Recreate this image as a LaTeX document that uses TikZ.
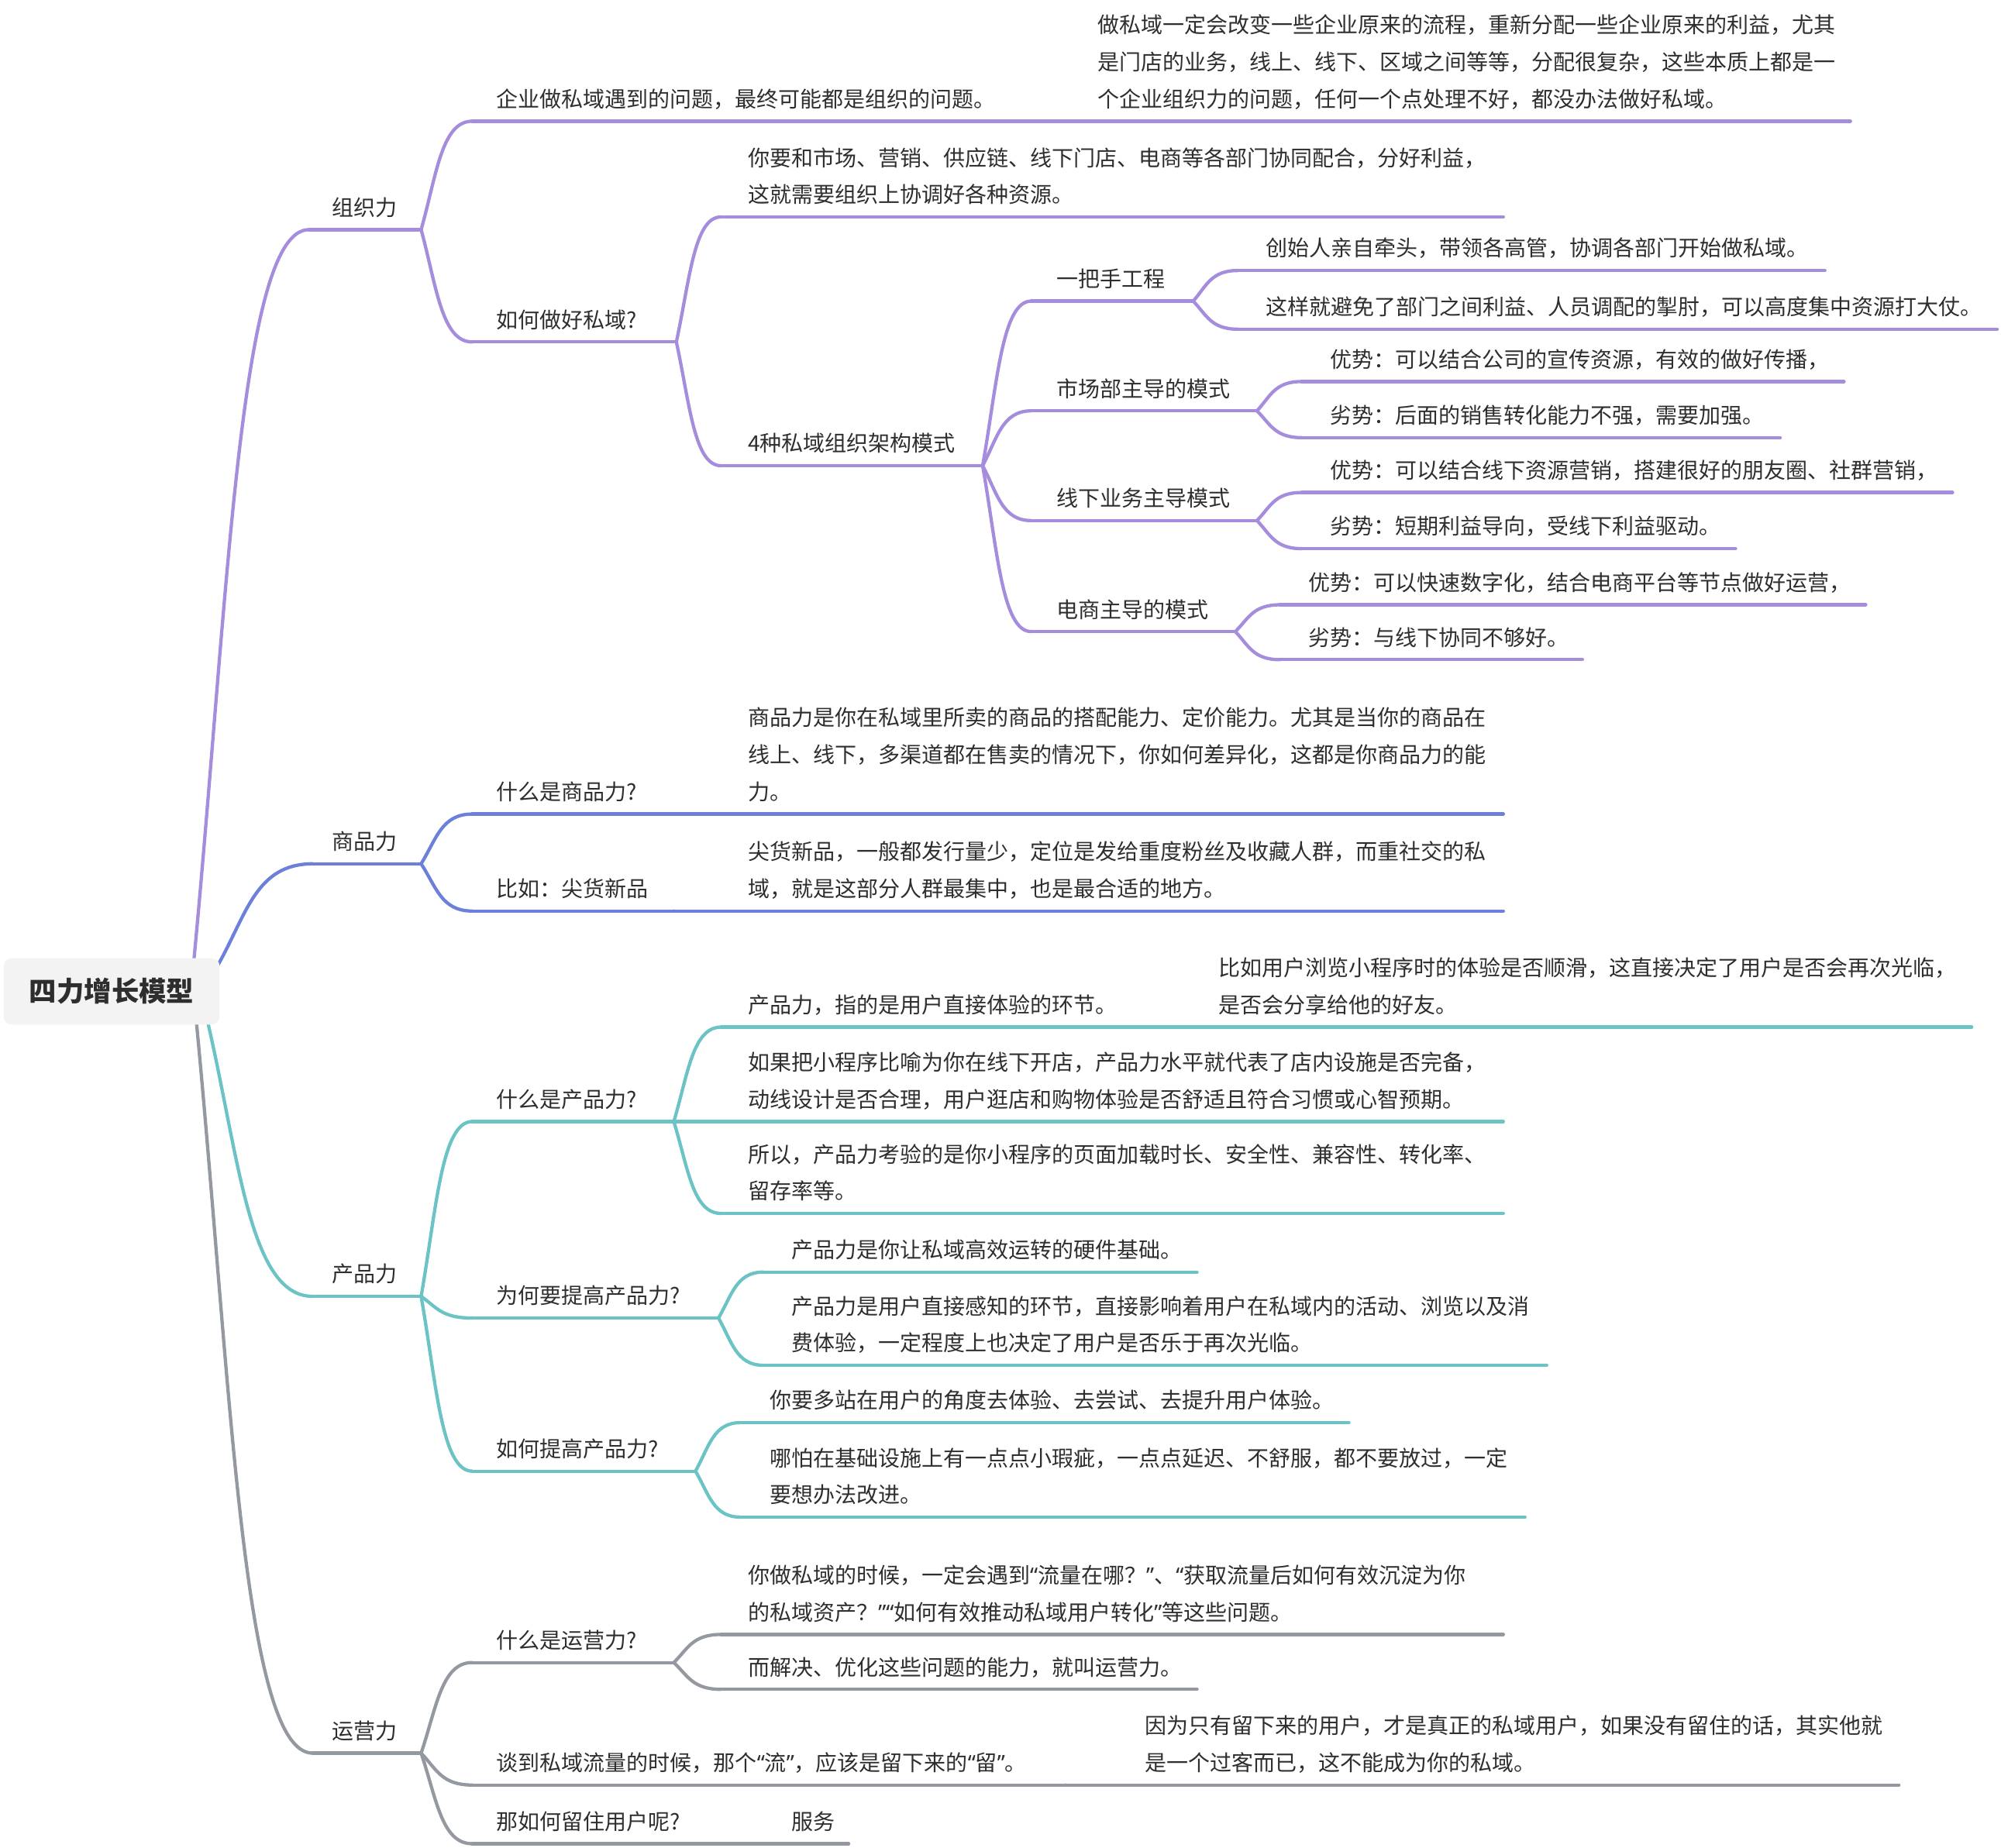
\documentclass[tikz,border=0pt]{standalone}
\usepackage{fontspec}
\usetikzlibrary{calc}
\newfontfamily\cjk{Noto Sans CJK SC}
\newfontfamily\quotefont{Noto Sans}
\newcommand\mmlq{{\quotefont “}}
\newcommand\mmrq{{\quotefont ”}}
\definecolor{purp}{HTML}{A58CDD}
\definecolor{bluc}{HTML}{6C80DB}
\definecolor{teal2}{HTML}{6CC3C5}
\definecolor{grayc}{HTML}{9499A1}
\definecolor{txtc}{HTML}{2E2E2E}
\definecolor{rootfill}{HTML}{F3F3F3}
\newcommand\mmT[1]{\begin{tabular}[b]{@{}l@{}}#1\end{tabular}}
% name, x-start, x-end, y-underline, x-text, text
\newcommand\mmtopic[6]{%
  \coordinate (#1-s) at (#2,#4);
  \coordinate (#1-e) at (#3,#4);
  \node[txt] (#1) at (#5,#4-11) {\mmT{#6}};
  \draw[ln] (#1-s) -- (#1-e);
}
\newcommand\mmconn[2]{%
  \draw[ln] let \p1=(#1), \p2=(#2) in (\p1) .. controls ({\x1+0.3*(\x2-\x1)},{\y1+0.5*(\y2-\y1)}) and ({\x1+0.4*(\x2-\x1)},{\y2}) .. (\p2);
}
\begin{document}
\begin{tikzpicture}[x=1pt,y=-1pt,
  txt/.style={anchor=base west,inner sep=0pt,text=txtc,font=\cjk\fontsize{17}{29}\selectfont},
  rootbox/.style={fill=rootfill,rounded corners=6pt,minimum width=169pt,minimum height=52pt,inner sep=0pt,text=txtc,font=\cjk\bfseries\fontsize{21.5}{26}\selectfont}]
\useasboundingbox[fill=white] (0,0) rectangle (1568,1448);

% ---------------- 组织力 ----------------
\begin{scope}[ln/.style={line width=2.6pt,line cap=round,draw=purp}]
\coordinate (root-p) at (152,752);
\mmtopic{zzl}{242}{330}{180}{260}{组织力}
\mmconn{root-p}{zzl-s}
\mmtopic{q1}{370}{810}{95}{389}{企业做私域遇到的问题，最终可能都是组织的问题。}
\mmconn{zzl-e}{q1-s}
\mmtopic{q1c}{810}{1450}{95}{860}{做私域一定会改变一些企业原来的流程，重新分配一些企业原来的利益，尤其\\是门店的业务，线上、线下、区域之间等等，分配很复杂，这些本质上都是一\\个企业组织力的问题，任何一个点处理不好，都没办法做好私域。}
\draw[ln] (q1-e) -- (q1c-s);
\mmtopic{q2}{370}{530}{268}{389}{如何做好私域?}
\mmconn{zzl-e}{q2-s}
\mmtopic{q2a}{565}{1178}{170}{586}{你要和市场、营销、供应链、线下门店、电商等各部门协同配合，分好利益，\\这就需要组织上协调好各种资源。}
\mmconn{q2-e}{q2a-s}
\mmtopic{m4}{565}{770}{365}{586}{4种私域组织架构模式}
\mmconn{q2-e}{m4-s}
\mmtopic{m41}{808}{935}{236}{828}{一把手工程}
\mmconn{m4-e}{m41-s}
\mmtopic{m41a}{970}{1430}{212}{992}{创始人亲自牵头，带领各高管，协调各部门开始做私域。}
\mmconn{m41-e}{m41a-s}
\mmtopic{m41b}{970}{1565}{258}{992}{这样就避免了部门之间利益、人员调配的掣肘，可以高度集中资源打大仗。}
\mmconn{m41-e}{m41b-s}
\mmtopic{m42}{808}{985}{322}{828}{市场部主导的模式}
\mmconn{m4-e}{m42-s}
\mmtopic{m42a}{1020}{1445}{299}{1042}{优势：可以结合公司的宣传资源，有效的做好传播，}
\mmconn{m42-e}{m42a-s}
\mmtopic{m42b}{1020}{1395}{343}{1042}{劣势：后面的销售转化能力不强，需要加强。}
\mmconn{m42-e}{m42b-s}
\mmtopic{m43}{808}{985}{408}{828}{线下业务主导模式}
\mmconn{m4-e}{m43-s}
\mmtopic{m43a}{1020}{1530}{386}{1042}{优势：可以结合线下资源营销，搭建很好的朋友圈、社群营销，}
\mmconn{m43-e}{m43a-s}
\mmtopic{m43b}{1020}{1360}{430}{1042}{劣势：短期利益导向，受线下利益驱动。}
\mmconn{m43-e}{m43b-s}
\mmtopic{m44}{808}{968}{495}{828}{电商主导的模式}
\mmconn{m4-e}{m44-s}
\mmtopic{m44a}{1003}{1462}{474}{1025}{优势：可以快速数字化，结合电商平台等节点做好运营，}
\mmconn{m44-e}{m44a-s}
\mmtopic{m44b}{1003}{1240}{517}{1025}{劣势：与线下协同不够好。}
\mmconn{m44-e}{m44b-s}
\end{scope}

% ---------------- 商品力 ----------------
\begin{scope}[ln/.style={line width=2.6pt,line cap=round,draw=bluc}]
\coordinate (root-b) at (171,756);
\mmtopic{spl}{245}{330}{677}{260}{商品力}
\mmconn{root-b}{spl-s}
\mmtopic{s1}{370}{528}{638}{389}{什么是商品力?}
\mmconn{spl-e}{s1-s}
\mmtopic{s1c}{528}{1178}{638}{586}{商品力是你在私域里所卖的商品的搭配能力、定价能力。尤其是当你的商品在\\线上、线下，多渠道都在售卖的情况下，你如何差异化，这都是你商品力的能\\力。}
\draw[ln] (s1-e) -- (s1c-s);
\mmtopic{s2}{370}{528}{714}{389}{比如：尖货新品}
\mmconn{spl-e}{s2-s}
\mmtopic{s2c}{528}{1178}{714}{586}{尖货新品，一般都发行量少，定位是发给重度粉丝及收藏人群，而重社交的私\\域，就是这部分人群最集中，也是最合适的地方。}
\draw[ln] (s2-e) -- (s2c-s);
\end{scope}

% ---------------- 产品力 ----------------
\begin{scope}[ln/.style={line width=2.6pt,line cap=round,draw=teal2}]
\coordinate (root-t) at (163,802);
\mmtopic{cpl}{245}{330}{1016}{260}{产品力}
\mmconn{root-t}{cpl-s}
\mmtopic{c1}{370}{528}{879}{389}{什么是产品力?}
\mmconn{cpl-e}{c1-s}
\mmtopic{c1a}{565}{895}{805}{586}{产品力，指的是用户直接体验的环节。}
\mmconn{c1-e}{c1a-s}
\mmtopic{c1ac}{895}{1545}{805}{955}{比如用户浏览小程序时的体验是否顺滑，这直接决定了用户是否会再次光临，\\是否会分享给他的好友。}
\draw[ln] (c1a-e) -- (c1ac-s);
\mmtopic{c1b}{528}{1178}{879}{586}{如果把小程序比喻为你在线下开店，产品力水平就代表了店内设施是否完备，\\动线设计是否合理，用户逛店和购物体验是否舒适且符合习惯或心智预期。}
\draw[ln] (c1-e) -- (c1b-s);
\mmtopic{c1c}{565}{1178}{951}{586}{所以，产品力考验的是你小程序的页面加载时长、安全性、兼容性、转化率、\\留存率等。}
\mmconn{c1-e}{c1c-s}
\mmtopic{c2}{370}{563}{1033}{389}{为何要提高产品力?}
\mmconn{cpl-e}{c2-s}
\mmtopic{c2a}{598}{938}{997}{620}{产品力是你让私域高效运转的硬件基础。}
\mmconn{c2-e}{c2a-s}
\mmtopic{c2b}{598}{1212}{1070}{620}{产品力是用户直接感知的环节，直接影响着用户在私域内的活动、浏览以及消\\费体验，一定程度上也决定了用户是否乐于再次光临。}
\mmconn{c2-e}{c2b-s}
\mmtopic{c3}{370}{545}{1153}{389}{如何提高产品力?}
\mmconn{cpl-e}{c3-s}
\mmtopic{c3a}{580}{1057}{1115}{603}{你要多站在用户的角度去体验、去尝试、去提升用户体验。}
\mmconn{c3-e}{c3a-s}
\mmtopic{c3b}{580}{1195}{1189}{603}{哪怕在基础设施上有一点点小瑕疵，一点点延迟、不舒服，都不要放过，一定\\要想办法改进。}
\mmconn{c3-e}{c3b-s}
\end{scope}

% ---------------- 运营力 ----------------
\begin{scope}[ln/.style={line width=2.6pt,line cap=round,draw=grayc}]
\coordinate (root-g) at (154,802);
\mmtopic{yyl}{245}{330}{1374}{260}{运营力}
\mmconn{root-g}{yyl-s}
\mmtopic{y1}{370}{528}{1303}{389}{什么是运营力?}
\mmconn{yyl-e}{y1-s}
\mmtopic{y1a}{565}{1178}{1281}{586}{你做私域的时候，一定会遇到\mmlq 流量在哪？\mmrq 、\mmlq 获取流量后如何有效沉淀为你\\的私域资产？\mmrq\mmlq 如何有效推动私域用户转化\mmrq 等这些问题。}
\mmconn{y1-e}{y1a-s}
\mmtopic{y1b}{565}{938}{1324}{586}{而解决、优化这些问题的能力，就叫运营力。}
\mmconn{y1-e}{y1b-s}
\mmtopic{y2}{370}{835}{1399}{389}{谈到私域流量的时候，那个\mmlq 流\mmrq ，应该是留下来的\mmlq 留\mmrq 。}
\mmconn{yyl-e}{y2-s}
\mmtopic{y2c}{835}{1488}{1399}{897}{因为只有留下来的用户，才是真正的私域用户，如果没有留住的话，其实他就\\是一个过客而已，这不能成为你的私域。}
\draw[ln] (y2-e) -- (y2c-s);
\mmtopic{y3}{370}{600}{1445}{389}{那如何留住用户呢?}
\mmconn{yyl-e}{y3-s}
\mmtopic{y3c}{600}{665}{1445}{620}{服务}
\draw[ln] (y3-e) -- (y3c-s);
\end{scope}

% ---------------- root ----------------
\node[rootbox] (root) at (87.5,777) {四力增长模型};
\end{tikzpicture}
\end{document}
